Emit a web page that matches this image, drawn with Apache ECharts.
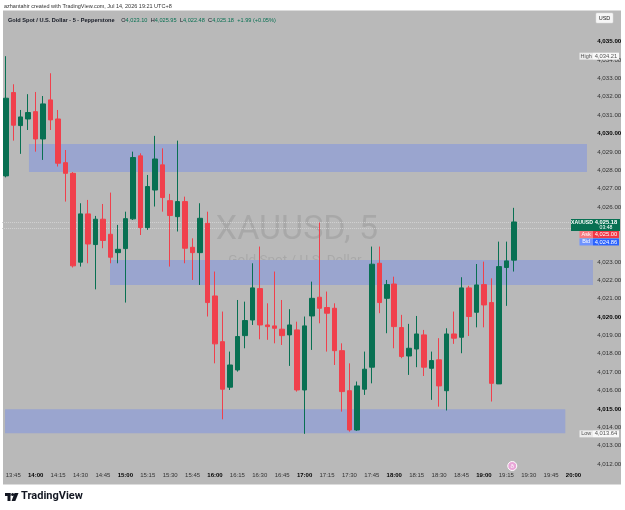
<!DOCTYPE html>
<html>
<head>
<meta charset="utf-8">
<script src="https://cdn.jsdelivr.net/npm/echarts@6/dist/echarts.min.js"></script>
<style>
  html, body { margin: 0; padding: 0; background: #fff; }
  #chart { width: 625px; height: 510px; }
</style>
</head>
<body>
<div id="chart"></div>
<script>
// 5 minute candles, 13:40 -> 19:20, time scale keeps running to 20:10
var startMinute = 13 * 60 + 40;
var slotCount = 79;
var times = [];
for (var i = 0; i < slotCount; i++) {
  var m = startMinute + i * 5;
  times.push(Math.floor(m / 60) + ':' + ('0' + (m % 60)).slice(-2));
}

var opens = [4027.69, 4032.23, 4030.43, 4030.79, 4031.19, 4029.70, 4031.83, 4030.79, 4028.41, 4027.83,
  4022.99, 4025.62, 4023.95, 4025.33, 4024.51, 4023.51, 4023.73, 4025.35, 4028.78, 4024.87,
  4026.92, 4028.29, 4026.34, 4025.47, 4026.29, 4023.80, 4023.51, 4025.11, 4021.15, 4018.66,
  4016.18, 4017.12, 4018.99, 4019.84, 4021.55, 4019.57, 4019.52, 4019.34, 4019.03, 4019.30,
  4016.03, 4020.06, 4021.08, 4020.52, 4020.48, 4018.17, 4015.99, 4013.85, 4016.07, 4017.27,
  4022.93, 4021.02, 4021.80, 4019.43, 4017.88, 4018.26, 4019.03, 4017.21, 4017.67, 4015.99,
  4019.08, 4018.90, 4021.59, 4020.26, 4021.77, 4020.79, 4016.36, 4022.70, 4023.10];
var highs = [4034.21, 4032.68, 4031.28, 4032.14, 4032.26, 4032.04, 4033.28, 4031.28, 4029.10, 4027.90,
  4026.20, 4026.38, 4025.51, 4026.16, 4026.78, 4025.02, 4025.74, 4029.01, 4028.92, 4027.74,
  4029.87, 4029.19, 4026.71, 4029.61, 4026.56, 4024.29, 4026.20, 4025.74, 4022.48, 4020.30,
  4018.12, 4020.93, 4020.84, 4022.93, 4023.84, 4020.75, 4022.48, 4020.93, 4020.43, 4019.75,
  4020.03, 4021.93, 4025.15, 4021.39, 4020.75, 4018.57, 4017.48, 4016.49, 4018.12, 4023.84,
  4023.84, 4022.02, 4022.20, 4020.12, 4019.63, 4020.06, 4019.30, 4018.12, 4018.85, 4019.39,
  4020.30, 4022.17, 4021.70, 4022.89, 4023.02, 4022.11, 4024.11, 4024.11, 4025.95];
var lows = [4027.61, 4029.61, 4028.89, 4030.19, 4029.01, 4028.56, 4030.19, 4028.20, 4026.29, 4022.70,
  4022.75, 4022.93, 4021.51, 4023.75, 4022.93, 4022.93, 4020.79, 4025.29, 4024.47, 4024.75,
  4026.02, 4025.74, 4022.75, 4024.66, 4022.93, 4022.02, 4021.75, 4020.03, 4017.48, 4014.43,
  4016.03, 4017.03, 4018.30, 4019.57, 4018.79, 4018.76, 4018.57, 4018.48, 4017.34, 4015.94,
  4013.64, 4018.21, 4019.66, 4018.12, 4017.39, 4014.85, 4013.76, 4013.80, 4015.76, 4016.39,
  4020.21, 4019.12, 4018.30, 4017.76, 4016.85, 4017.27, 4016.79, 4015.49, 4015.12, 4014.91,
  4018.54, 4018.03, 4018.97, 4019.44, 4019.44, 4015.40, 4016.36, 4020.61, 4022.48];
var closes = [4031.92, 4030.45, 4030.90, 4031.14, 4029.70, 4031.61, 4030.74, 4028.38, 4027.83, 4022.79,
  4025.62, 4023.98, 4025.33, 4024.17, 4023.26, 4023.69, 4025.36, 4028.69, 4024.87, 4027.11,
  4028.61, 4026.51, 4025.53, 4026.29, 4023.75, 4023.51, 4025.38, 4020.79, 4018.54, 4016.07,
  4017.39, 4018.94, 4019.81, 4021.59, 4019.57, 4019.48, 4019.39, 4018.99, 4019.57, 4016.03,
  4019.52, 4021.02, 4020.48, 4020.21, 4018.17, 4015.94, 4013.85, 4016.25, 4017.16, 4022.88,
  4020.79, 4021.77, 4019.48, 4017.85, 4018.30, 4019.08, 4017.27, 4017.63, 4016.25, 4019.08,
  4018.85, 4021.59, 4020.03, 4021.75, 4020.66, 4016.39, 4022.75, 4023.06, 4025.18];

// drawn rectangles: start / end on the time scale (slot), price top / bottom
var zoneStart = [3.1, 13.95, -0.1];
var zoneEnd = [77.8, 78.6, 74.9];
var zoneTop = [4029.43, 4023.11, 4014.98];
var zoneBottom = [4027.90, 4021.75, 4013.67];

var lastPrice = 4025.18;
var askPrice = 4025.00;
var bidPrice = 4024.86;
var dayHigh = 4034.21;
var dayLow = 4013.64;
var eventSlot = 67.8;

var BG = '#b9b9b9';
var UP = '#087052';
var DOWN = '#f0404c';
var ZONE = '#9aa5cf';

var candleData = opens.map(function (o, i) {
  return [o, closes[i], lows[i], highs[i]];
});
var zoneData = zoneStart.map(function (s, i) {
  return [s, zoneEnd[i], zoneTop[i], zoneBottom[i]];
});

function fmtPrice(v) {
  var s = v.toFixed(2);
  return s.slice(0, 1) + ',' + s.slice(1);
}

var chart = echarts.init(document.getElementById('chart'));

var option = {
  backgroundColor: '#ffffff',
  animation: false,
  grid: { left: 2.07, right: 32.8, top: 23.32, bottom: 27.7 },
  xAxis: [
    {
      type: 'category',
      data: times,
      boundaryGap: true,
      axisLine: { show: false },
      axisTick: { show: false },
      splitLine: { show: false },
      axisLabel: {
        margin: -10,
        interval: function (idx) { return idx % 3 === 1; },
        formatter: function (v) {
          return v.slice(-2) === '00' ? '{b|' + v + '}' : '{n|' + v + '}';
        },
        rich: {
          n: { fontSize: 6, color: '#333', fontFamily: 'Liberation Sans' },
          b: { fontSize: 6, color: '#000', fontWeight: 'bold', fontFamily: 'Liberation Sans' }
        }
      }
    },
    {
      type: 'value',
      show: false,
      min: -0.5,
      max: slotCount - 0.5
    }
  ],
  yAxis: {
    type: 'value',
    position: 'right',
    min: 4011,
    max: 4036,
    interval: 1,
    scale: true,
    axisLine: { show: false },
    axisTick: { show: false },
    splitLine: { show: false },
    axisLabel: {
      margin: 5,
      formatter: function (v) {
        if (v === 4011 || v === 4036 || v === 4024 || v === 4025) return '';
        return v % 5 === 0 ? '{b|' + fmtPrice(v) + '}' : '{n|' + fmtPrice(v) + '}';
      },
      rich: {
        n: { fontSize: 6.2, color: '#333', fontFamily: 'Liberation Sans' },
        b: { fontSize: 6.2, color: '#000', fontWeight: 'bold', fontFamily: 'Liberation Sans' }
      }
    }
  },
  series: [
    {
      type: 'custom',
      xAxisIndex: 1,
      z: 1,
      silent: true,
      data: zoneData,
      renderItem: function (params, api) {
        var a = api.coord([api.value(0), api.value(2)]);
        var b = api.coord([api.value(1), api.value(3)]);
        return {
          type: 'rect',
          shape: { x: a[0], y: a[1], width: b[0] - a[0], height: b[1] - a[1] },
          style: { fill: ZONE }
        };
      },
      // last price and bid lines sit behind the candles
      markLine: {
        z: 1,
        silent: true,
        symbol: 'none',
        label: { show: false },
        lineStyle: { color: '#d2d2d2', type: 'dotted', width: 1 },
        data: [{ yAxis: lastPrice }, { yAxis: bidPrice }]
      }
    },
    {
      type: 'candlestick',
      z: 3,
      barWidth: 5,
      data: candleData,
      itemStyle: {
        color: UP,
        color0: DOWN,
        borderColor: UP,
        borderColor0: DOWN,
        borderWidth: 1
      }
    }
  ]
};
chart.setOption(option);

// tags on the price scale and the rest of the TradingView frame
function yOf(p) { return chart.convertToPixel({ yAxisIndex: 0 }, p); }
var yHigh = yOf(dayHigh);
var yLow = yOf(dayLow);
var yLast = yOf(lastPrice);
var eventX = chart.convertToPixel({ xAxisIndex: 1 }, eventSlot);
var tagFont = 'Liberation Sans';

function tag(y, name, value, nameFill, valueFill, nameColor, valueColor) {
  return [
    { type: 'rect', z: 20, shape: { x: 579.5, y: y - 3.5, width: 13.5, height: 7 }, style: { fill: nameFill } },
    { type: 'rect', z: 20, shape: { x: 593, y: y - 3.5, width: 26, height: 7 }, style: { fill: valueFill } },
    { type: 'text', z: 21, x: 586.2, y: y, style: { text: name, fill: nameColor, fontSize: 5.5, fontFamily: tagFont, align: 'center', verticalAlign: 'middle' } },
    { type: 'text', z: 21, x: 606, y: y, style: { text: value, fill: valueColor, fontSize: 5.8, fontFamily: tagFont, align: 'center', verticalAlign: 'middle' } }
  ];
}

var askY = yLast + 12.5;
var bidY = askY + 7.5;

var elements = [
  { type: 'rect', z: -1, shape: { x: 3, y: 10.5, width: 618, height: 474 }, style: { fill: BG } },
  { type: 'text', left: 4, top: 3, style: { text: 'azhantahir created with TradingView.com, Jul 14, 2026 19:21 UTC+8', fill: '#333', fontSize: 5.5, fontFamily: tagFont } },
  {
    type: 'text', left: 8, top: 14.5,
    style: {
      text: '{t|Gold Spot / U.S. Dollar · 5 · Pepperstone}  {k|O}{v|4,023.10} {k|H}{v|4,025.95} {k|L}{v|4,022.48} {k|C}{v|4,025.18} {v|+1.99 (+0.05%)}',
      fontFamily: tagFont,
      rich: {
        t: { fontSize: 5.6, fill: '#131722', fontWeight: 'bold' },
        k: { fontSize: 5.6, fill: '#131722' },
        v: { fontSize: 5.6, fill: UP }
      }
    }
  },
  { type: 'rect', z: 20, shape: { x: 596, y: 13, width: 17, height: 10, r: 1 }, style: { fill: '#f6f6f6', stroke: '#dcdcdc', lineWidth: 0.5 } },
  { type: 'text', z: 21, x: 604.5, y: 18, style: { text: 'USD', fill: '#222', fontSize: 5.5, fontFamily: tagFont, align: 'center', verticalAlign: 'middle' } },
  // watermark
  { type: 'text', z: 0, x: 297, y: 230, silent: true, style: { text: 'XAUUSD, 5', fill: 'rgba(0,0,0,0.09)', fontSize: 34, fontFamily: 'Roboto', align: 'center', verticalAlign: 'middle' } },
  { type: 'text', z: 0, x: 295, y: 261, silent: true, style: { text: 'Gold Spot / U.S. Dollar', fill: 'rgba(0,0,0,0.09)', fontSize: 13.5, fontFamily: 'Roboto', align: 'center', verticalAlign: 'middle' } },
  // last price tag
  { type: 'rect', z: 20, shape: { x: 571, y: yLast - 3, width: 49, height: 12 }, style: { fill: UP } },
  { type: 'text', z: 21, x: 582, y: yLast + 1, style: { text: 'XAUUSD', fill: '#fff', fontSize: 5.2, fontWeight: 'bold', fontFamily: tagFont, align: 'center', verticalAlign: 'middle' } },
  { type: 'text', z: 21, x: 606, y: yLast + 0.7, style: { text: fmtPrice(lastPrice), fill: '#fff', fontSize: 5.8, fontWeight: 'bold', fontFamily: tagFont, align: 'center', verticalAlign: 'middle' } },
  { type: 'text', z: 21, x: 606, y: yLast + 5.8, style: { text: '03:48', fill: '#fff', fontSize: 5.2, fontFamily: tagFont, align: 'center', verticalAlign: 'middle' } },
  // event marker on the time scale
  { type: 'circle', z: 20, shape: { cx: eventX, cy: 466, r: 4.5 }, style: { fill: '#e9a6d8', stroke: '#fff', lineWidth: 1 } },
  { type: 'text', z: 21, x: eventX, y: 466, style: { text: 'ð', fill: '#fff', fontSize: 6, fontFamily: tagFont, align: 'center', verticalAlign: 'middle' } },
  // TradingView logo
  { type: 'rect', shape: { x: 5, y: 493, width: 5.5, height: 3 }, style: { fill: '#131722' } },
  { type: 'rect', shape: { x: 7.5, y: 493, width: 3, height: 8 }, style: { fill: '#131722' } },
  { type: 'circle', shape: { cx: 12.6, cy: 494.6, r: 1.5 }, style: { fill: '#131722' } },
  { type: 'polygon', shape: { points: [[14.5, 493], [18.5, 493], [15.3, 501], [11.6, 501]] }, style: { fill: '#131722' } },
  { type: 'text', left: 21, top: 490.5, style: { text: 'TradingView', fill: '#131722', fontSize: 11, fontWeight: 'bold', fontFamily: 'Roboto' } }
];
elements = elements
  .concat(tag(yHigh, 'High', fmtPrice(dayHigh), '#ececec', '#f8f8f8', '#555', '#555'))
  .concat(tag(yLow, 'Low', fmtPrice(dayLow), '#ececec', '#f8f8f8', '#555', '#555'))
  .concat(tag(askY, 'Ask', fmtPrice(askPrice), '#f7797f', '#f23645', '#fff', '#fff'))
  .concat(tag(bidY, 'Bid', fmtPrice(bidPrice), '#6f93ff', '#2962ff', '#fff', '#fff'));

chart.setOption({ graphic: { elements: elements } });
</script>
</body>
</html>
